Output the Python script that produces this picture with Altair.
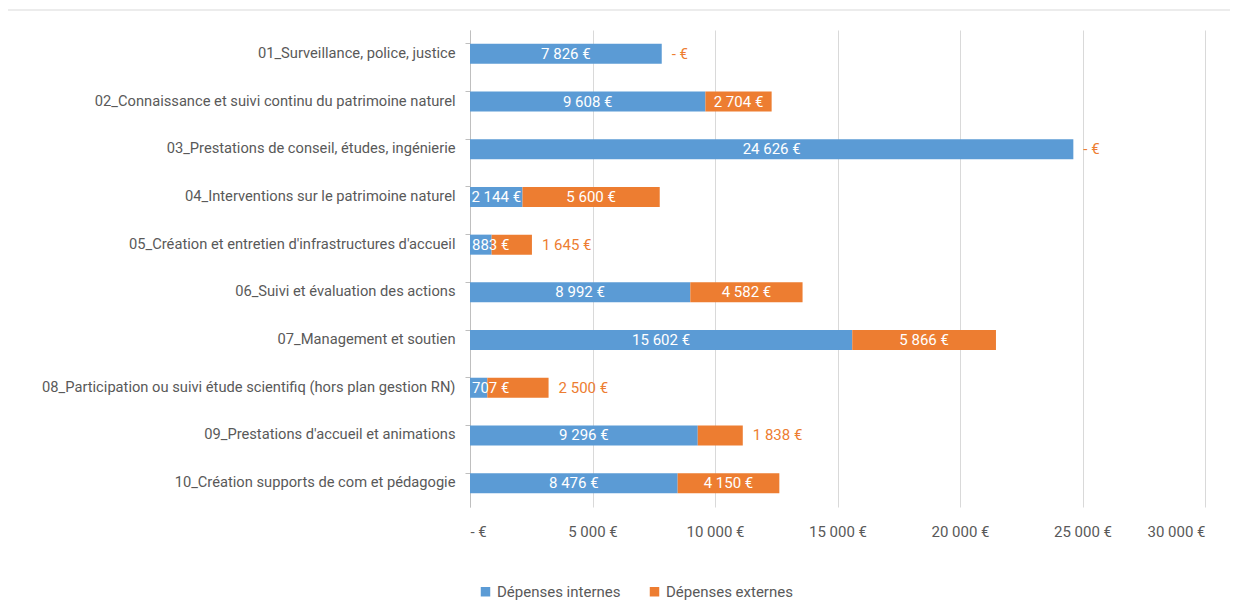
import altair as alt
import pandas as pd

categories = [
    "01_Surveillance, police, justice",
    "02_Connaissance et suivi continu du patrimoine naturel",
    "03_Prestations de conseil, études, ingénierie",
    "04_Interventions sur le patrimoine naturel",
    "05_Création et entretien d'infrastructures d'accueil",
    "06_Suivi et évaluation des actions",
    "07_Management et soutien",
    "08_Participation ou suivi étude scientifiq (hors plan gestion RN)",
    "09_Prestations d'accueil et animations",
    "10_Création supports de com et pédagogie",
]
internes = [7826, 9608, 24626, 2144, 883, 8992, 15602, 707, 9296, 8476]
externes = [0, 2704, 0, 5600, 1645, 4582, 5866, 2500, 1838, 4150]
series = ["Dépenses internes", "Dépenses externes"]
x_ticks = [0, 5000, 10000, 15000, 20000, 25000, 30000]

BLUE = "#5B9BD5"
ORANGE = "#ED7D31"
GREY = "#595959"
FONT = "Roboto"


def fmt(v):
    if v == 0:
        return "-  €"
    return f"{v:,}".replace(",", " ") + " €"


rows = []
for i, c in enumerate(categories):
    rows.append({"cat": c, "series": series[0], "value": internes[i], "ord": 0})
    rows.append({"cat": c, "series": series[1], "value": externes[i], "ord": 1})
df = pd.DataFrame(rows)

inside = []
start = []
outside = []
for i, c in enumerate(categories):
    if internes[i] >= 1500:
        inside.append({"cat": c, "pos": internes[i] / 2, "label": fmt(internes[i])})
    else:
        start.append({"cat": c, "pos": 0, "label": fmt(internes[i])})
    if externes[i] >= 2600:
        inside.append({"cat": c, "pos": internes[i] + externes[i] / 2, "label": fmt(externes[i])})
    else:
        outside.append({"cat": c, "pos": internes[i] + externes[i], "label": fmt(externes[i])})
df_in = pd.DataFrame(inside)
df_start = pd.DataFrame(start)
df_out = pd.DataFrame(outside)

y_enc = alt.Y(
    "cat:N",
    sort=categories,
    title=None,
    scale=alt.Scale(domain=categories, paddingInner=0.58, paddingOuter=0.29),
    axis=alt.Axis(
        domainColor="#bfbfbf",
        tickColor="#bfbfbf",
        tickSize=5,
        bandPosition=0,
        labelPadding=10,
        labelFontSize=14.7,
        labelColor=GREY,
        labelFont=FONT,
        labelLimit=600,
    ),
)
x_scale = alt.Scale(domain=[0, 30000], nice=False)

bars = alt.Chart(df).mark_bar().encode(
    y=y_enc,
    x=alt.X(
        "value:Q",
        stack="zero",
        scale=x_scale,
        title=None,
        axis=alt.Axis(
            values=x_ticks,
            labelExpr="datum.value == 0 ? '-  €' : replace(format(datum.value, ',d'), ',', ' ') + ' €'",
            grid=True,
            gridColor="#d9d9d9",
            domain=False,
            ticks=False,
            labelPadding=17,
            labelFontSize=15,
            labelColor=GREY,
            labelFont=FONT,
        ),
    ),
    color=alt.Color(
        "series:N",
        scale=alt.Scale(domain=series, range=[BLUE, ORANGE]),
        legend=alt.Legend(
            title=None,
            orient="none",
            legendX=8,
            legendY=554,
            direction="horizontal",
            symbolType="square",
            symbolSize=90,
            symbolStrokeWidth=0,
            labelFontSize=15,
            labelColor=GREY,
            labelFont=FONT,
            columnPadding=26,
        ),
    ),
    order=alt.Order("ord:Q"),
)

txt_in = alt.Chart(df_in).mark_text(color="white", fontSize=15, font=FONT, align="center", baseline="middle").encode(
    y=alt.Y("cat:N", sort=categories),
    x=alt.X("pos:Q", scale=x_scale),
    text="label:N",
)
txt_start = alt.Chart(df_start).mark_text(color="white", fontSize=15, font=FONT, align="left", baseline="middle", dx=2).encode(
    y=alt.Y("cat:N", sort=categories),
    x=alt.X("pos:Q", scale=x_scale),
    text="label:N",
)
txt_out = alt.Chart(df_out).mark_text(color=ORANGE, fontSize=15, font=FONT, align="left", baseline="middle", dx=10).encode(
    y=alt.Y("cat:N", sort=categories),
    x=alt.X("pos:Q", scale=x_scale),
    text="label:N",
)
top_line = alt.Chart(pd.DataFrame({"a": [0]})).mark_rule(color="#d9d9d9", strokeWidth=1).encode(
    x=alt.value(-462), x2=alt.value(768), y=alt.value(-20)
)

chart = alt.layer(top_line, bars, txt_in, txt_start, txt_out).properties(
    width=735,
    height=477,
    autosize=alt.AutoSizeParams(type="none"),
    padding={"left": 462, "top": 22, "right": 25, "bottom": 96},
).configure_view(stroke=None)

chart.save("out.html", embed_options={"renderer": "svg", "actions": False})
